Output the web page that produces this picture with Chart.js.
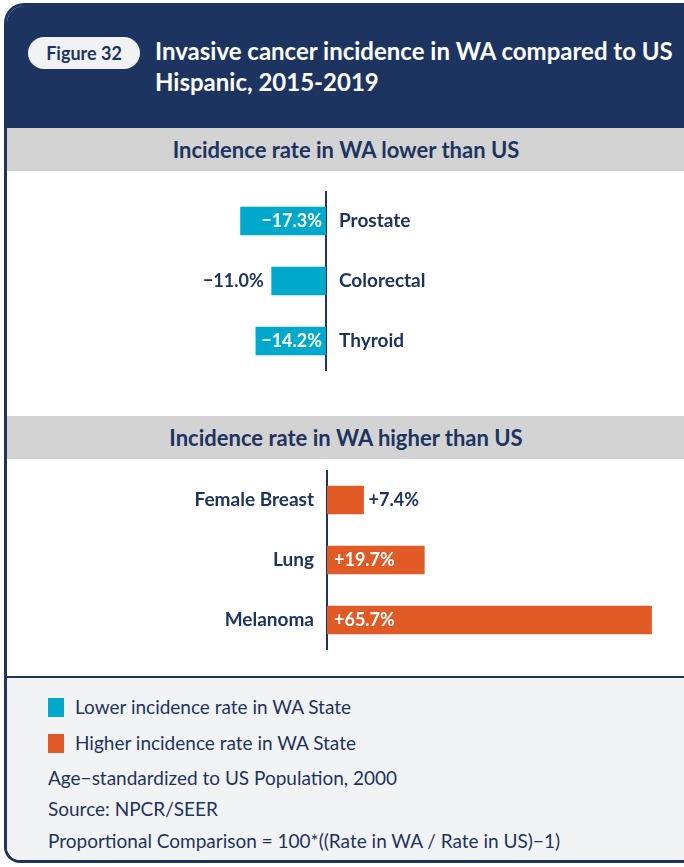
<!DOCTYPE html>
<html>
<head>
<meta charset="utf-8">
<script src="https://cdn.jsdelivr.net/npm/chart.js@4"></script>
<style>
  html, body { margin: 0; padding: 0; }
  body { width: 684px; height: 867px; overflow: hidden; position: relative; background: #fff; font-family: Lato, "Open Sans", sans-serif; }
  .card { position: absolute; left: 4px; top: 3px; width: 720px; height: 860px; border: 3px solid #1d3461; border-right: none; border-radius: 20px 0 0 16px; overflow: hidden; background: #fff; box-sizing: border-box; }
  .head { position: absolute; left: 0; top: 0; width: 100%; height: 122px; background: #1d3461; }
  .pill { position: absolute; left: 21px; top: 31px; width: 112px; height: 32px; border-radius: 16px; background: #f1f2f4; color: #1d3461; font-weight: 700; font-size: 18px; line-height: 32px; text-align: center; }
  .title { position: absolute; left: 148px; top: 29px; color: #fff; font-weight: 700; font-size: 24px; line-height: 31px; white-space: nowrap; }
  .band { position: absolute; left: 0; width: 100%; height: 43px; background: #d3d3d3; color: #1d3461; font-weight: 700; font-size: 22px; line-height: 43px; }
  .band span { position: absolute; left: 339px; transform: translateX(-50%); white-space: nowrap; }
  .foot { position: absolute; left: 0; top: 670px; width: 100%; height: 200px; background: #f2f3f5; border-top: 2px solid #1d3461; }
  .note { position: absolute; left: 41px; color: #1d3461; font-size: 19px; white-space: nowrap; }
  .sw { display: inline-block; width: 16px; height: 19px; vertical-align: -3px; margin-right: 11px; }
  canvas { position: absolute; }
</style>
</head>
<body>
<div class="card">
  <div class="head">
    <div class="pill">Figure 32</div>
    <div class="title">Invasive cancer incidence in WA compared to US<br>Hispanic, 2015-2019</div>
  </div>
  <div class="band" style="top:122px"><span>Incidence rate in WA lower than US</span></div>
  <div class="band" style="top:410px"><span>Incidence rate in WA higher than US</span></div>
  <div class="foot">
    <div class="note" style="top:17px"><span class="sw" style="background:#00a9cc"></span>Lower incidence rate in WA State</div>
    <div class="note" style="top:53px"><span class="sw" style="background:#e05a26"></span>Higher incidence rate in WA State</div>
    <div class="note" style="top:88px">Age−standardized to US Population, 2000</div>
    <div class="note" style="top:119px">Source: NPCR/SEER</div>
    <div class="note" style="top:151px">Proportional Comparison = 100*((Rate in WA / Rate in US)−1)</div>
  </div>
</div>
<canvas id="lower-chart" width="684" height="180" style="left:0;top:191px"></canvas>
<canvas id="higher-chart" width="684" height="180" style="left:0;top:470px"></canvas>
<script>
// WA vs US proportional comparison, %
const lowerCategories = ['Prostate', 'Colorectal', 'Thyroid'];
const lowerValues = [-17.3, -11.0, -14.2];
const higherCategories = ['Female Breast', 'Lung', 'Melanoma'];
const higherValues = [7.4, 19.7, 65.7];

const navy = '#1d3461';
const fontFamily = 'Lato, "Open Sans", sans-serif';

// writes the value inside the bar near the axis if it fits, otherwise past the bar end
const valueLabels = {
    id: 'valueLabels',
    afterDatasetsDraw(chart) {
        const ctx = chart.ctx;
        const meta = chart.getDatasetMeta(0);
        const values = chart.data.datasets[0].data;
        ctx.save();
        ctx.font = 'bold 18px ' + fontFamily;
        ctx.textBaseline = 'middle';
        meta.data.forEach((bar, i) => {
            const v = values[i];
            const text = (v < 0 ? '−' : '+') + Math.abs(v).toFixed(1) + '%';
            const w = ctx.measureText(text).width;
            const barLen = Math.abs(bar.x - bar.base);
            const neg = v < 0;
            ctx.textAlign = neg ? 'right' : 'left';
            if (w + 8 < barLen) {
                ctx.fillStyle = '#fff';
                ctx.fillText(text, bar.base + (neg ? -4 : 7), bar.y);
            } else {
                ctx.fillStyle = navy;
                ctx.fillText(text, bar.x + (neg ? -8 : 5), bar.y);
            }
        });
        ctx.restore();
    }
};

function makeChart(id, labels, values, color, neg) {
    return new Chart(document.getElementById(id), {
        type: 'bar',
        data: {
            labels: labels,
            datasets: [{
                data: values,
                backgroundColor: color,
                barThickness: 28
            }]
        },
        options: {
            indexAxis: 'y',
            responsive: false,
            animation: false,
            layout: { padding: neg ? 0 : { right: 31 } },
            plugins: { legend: { display: false }, tooltip: { enabled: false } },
            scales: {
                x: {
                    display: false,
                    min: neg ? -66 : 0,
                    max: neg ? 0 : 66
                },
                y: {
                    position: neg ? 'right' : 'left',
                    grid: { display: false, drawTicks: false },
                    border: { display: true, color: navy, width: 2 },
                    ticks: {
                        color: navy,
                        padding: 13,
                        font: { family: fontFamily, size: 19, weight: 'bold' }
                    },
                    afterFit(scale) {
                        scale.width = neg ? 358 : 327;
                        scale.paddingTop = 0;
                        scale.paddingBottom = 0;
                    }
                }
            }
        },
        plugins: [valueLabels]
    });
}

makeChart('lower-chart', lowerCategories, lowerValues, '#00a9cc', true);
makeChart('higher-chart', higherCategories, higherValues, '#e05a26', false);
</script>
</body>
</html>
